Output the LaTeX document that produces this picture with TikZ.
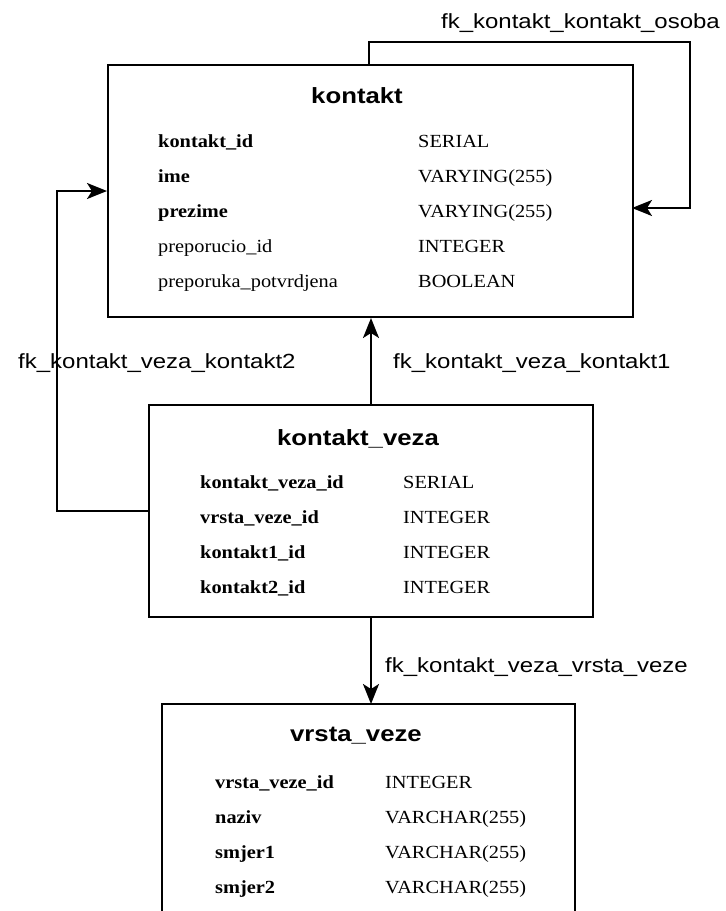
\documentclass[tikz,border=0pt]{standalone}
\usepackage{fontspec}
\setmainfont{Liberation Serif}[FakeStretch=1.1]
\newfontfamily\labelfont{Liberation Sans}[FakeStretch=1.17]
\usetikzlibrary{arrows.meta}

\tikzset{
  table/.style={draw, line width=2pt, rectangle, inner sep=0pt, anchor=north west},
  tabletitle/.style={font=\labelfont\fontsize{22}{26}\selectfont\bfseries, anchor=base, inner sep=0pt},
  keycol/.style={font=\fontsize{18.5}{22}\selectfont\bfseries, anchor=base west, inner sep=0pt},
  colname/.style={font=\fontsize{18.5}{22}\selectfont, anchor=base west, inner sep=0pt},
  coltype/.style={font=\fontsize{18.5}{22}\selectfont, anchor=base west, inner sep=0pt},
  fklabel/.style={font=\labelfont\fontsize{20.5}{24}\selectfont, inner sep=0pt},
  fk/.style={line width=2pt, -{Stealth[length=20pt,width=16pt,inset=5pt]}},
}

\begin{document}
\begin{tikzpicture}[x=1pt,y=-1pt]
\useasboundingbox (0,0) rectangle (726,911);

% table kontakt
\node[table, minimum width=525pt, minimum height=252pt] (kontakt) at (107,64) {};
\node[tabletitle] (kontaktT) at (357,103) {kontakt};
\node[keycol]  (k1) at (158,147) {kontakt\_id};
\node[keycol]  (k2) at (158,182) {ime};
\node[keycol]  (k3) at (158,217) {prezime};
\node[colname] (k4) at (158,252) {preporucio\_id};
\node[colname] (k5) at (158,287) {preporuka\_potvrdjena};
\node[coltype] (t1) at (418,147) {SERIAL};
\node[coltype] (t2) at (418,182) {VARYING(255)};
\node[coltype] (t3) at (418,217) {VARYING(255)};
\node[coltype] (t4) at (418,252) {INTEGER};
\node[coltype] (t5) at (418,287) {BOOLEAN};

% table kontakt_veza
\node[table, minimum width=444pt, minimum height=212pt] (veza) at (148,404) {};
\node[tabletitle] (vezaT) at (358,445) {kontakt\_veza};
\node[keycol]  (v1) at (200,488) {kontakt\_veza\_id};
\node[keycol]  (v2) at (200,523) {vrsta\_veze\_id};
\node[keycol]  (v3) at (200,558) {kontakt1\_id};
\node[keycol]  (v4) at (200,593) {kontakt2\_id};
\node[coltype] (u1) at (403,488) {SERIAL};
\node[coltype] (u2) at (403,523) {INTEGER};
\node[coltype] (u3) at (403,558) {INTEGER};
\node[coltype] (u4) at (403,593) {INTEGER};

% table vrsta_veze (open at the bottom)
\node[inner sep=0pt, anchor=north west, minimum width=413pt, minimum height=207pt] (vrsta) at (162,704) {};
\draw[line width=2pt] (vrsta.south west) |- (vrsta.north east) -- (vrsta.south east);
\node[tabletitle] (vrstaT) at (356,741) {vrsta\_veze};
\node[keycol]  (w1) at (215,788) {vrsta\_veze\_id};
\node[keycol]  (w2) at (215,823) {naziv};
\node[keycol]  (w3) at (215,858) {smjer1};
\node[keycol]  (w4) at (215,893) {smjer2};
\node[coltype] (x1) at (385,788) {INTEGER};
\node[coltype] (x2) at (385,823) {VARCHAR(255)};
\node[coltype] (x3) at (385,858) {VARCHAR(255)};
\node[coltype] (x4) at (385,893) {VARCHAR(255)};

% foreign keys
\coordinate (selfStart) at (369,64);
\coordinate (selfTop)   at (690,42);
\coordinate (selfEnd)   at (632,208);
\draw[fk] (selfStart) |- (selfTop) |- (selfEnd);
\node[fklabel, anchor=base east] (lSelf) at (720,28) {fk\_kontakt\_kontakt\_osoba};

\coordinate (k2Start) at (148,511);
\coordinate (k2Bend)  at (57,511);
\coordinate (k2End)   at (107,191);
\draw[fk] (k2Start) -- (k2Bend) |- (k2End);
\node[fklabel, anchor=base west] (lK2) at (18,368) {fk\_kontakt\_veza\_kontakt2};

\draw[fk] (veza.north) -- (kontakt.south -| veza.north);
\node[fklabel, anchor=base west] (lK1) at (393,368) {fk\_kontakt\_veza\_kontakt1};

\draw[fk] (veza.south) -- (vrsta.north -| veza.south);
\node[fklabel, anchor=base west] (lVrsta) at (385,672) {fk\_kontakt\_veza\_vrsta\_veze};
\end{tikzpicture}
\end{document}
